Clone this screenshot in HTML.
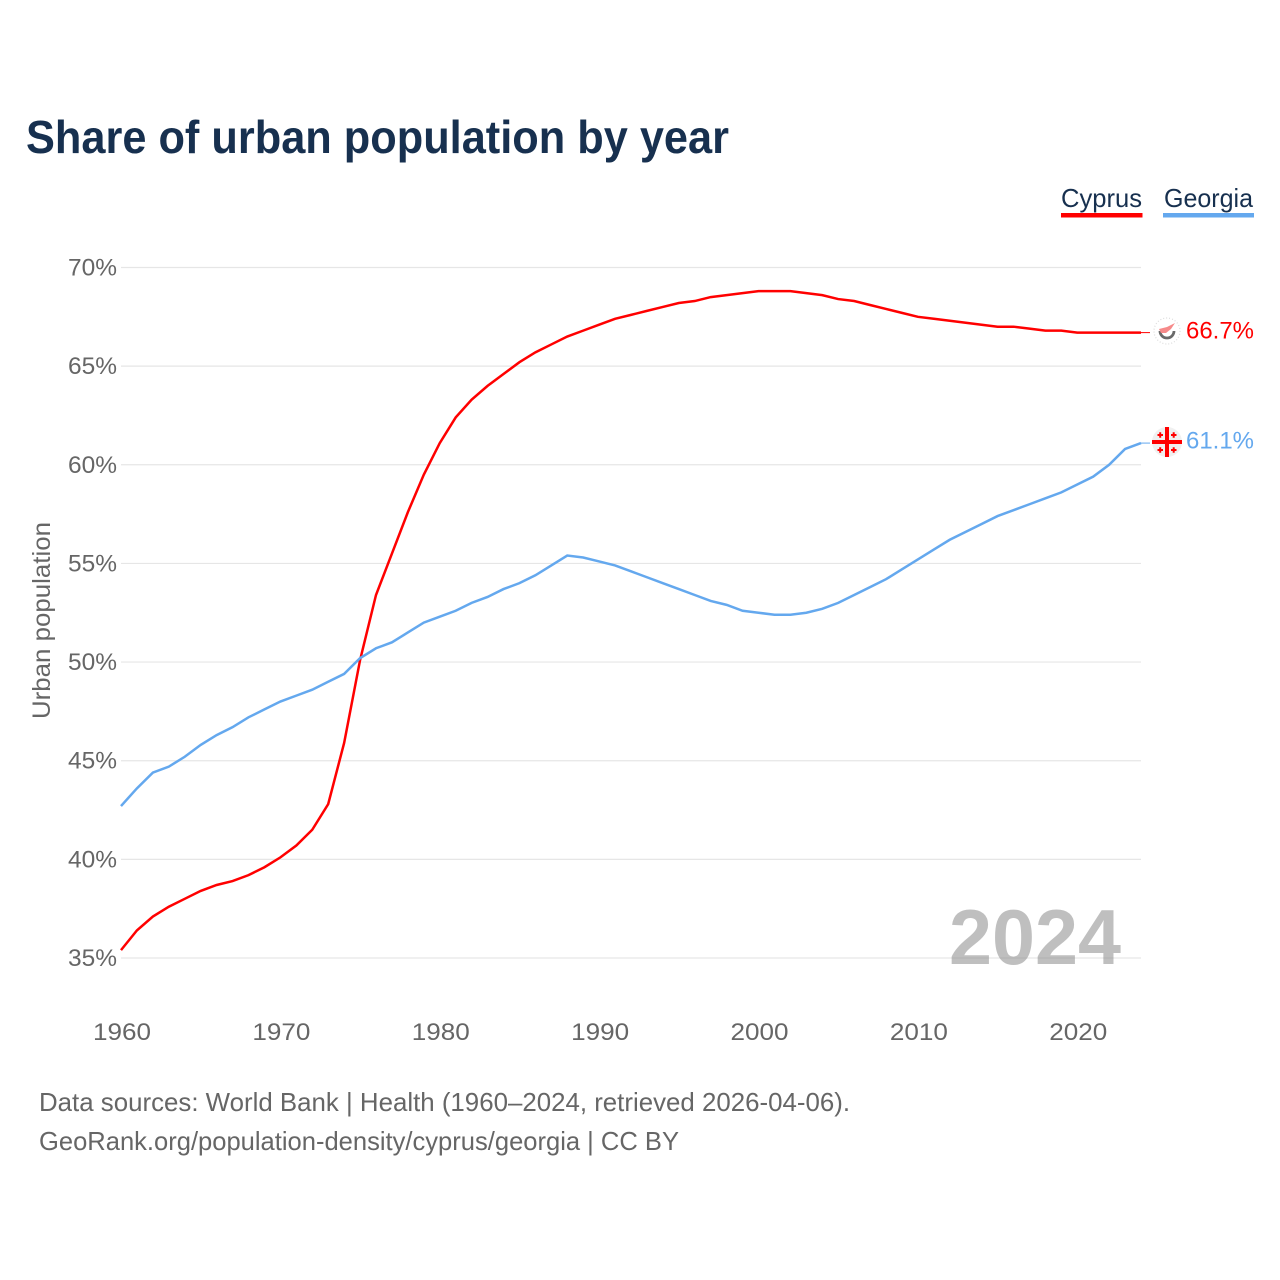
<!DOCTYPE html>
<html lang="en">
<head>
<meta charset="utf-8">
<title>Share of urban population by year</title>
<style>
html,body{margin:0;padding:0;background:#fff;}
svg{display:block;}
text{font-family:"Liberation Sans",sans-serif;}
</style>
</head>
<body>
<svg id="chart" xmlns="http://www.w3.org/2000/svg" width="1280" height="1280" viewBox="0 0 1280 1280">
  <rect width="1280" height="1280" fill="#ffffff"/>
  <text x="26" y="153" font-size="46" font-weight="700" fill="#17304f" textLength="703" lengthAdjust="spacingAndGlyphs">Share of urban population by year</text>

  <g>
    <g>
      <text x="1061" y="207" font-size="26" fill="#17304f" textLength="81" lengthAdjust="spacingAndGlyphs">Cyprus</text>
      <rect x="1061" y="213" width="81.5" height="4.500" fill="#ff0000"/>
    </g>
    <g>
      <text x="1164" y="207" font-size="26" fill="#17304f" textLength="89" lengthAdjust="spacingAndGlyphs">Georgia</text>
      <rect x="1163" y="213" width="91" height="4.500" fill="#64a8ee"/>
    </g>
  </g>

  <g id="grid"></g>
  <g id="yticks"></g>
  <g id="xticks"></g>
  <text transform="translate(50,719) rotate(-90)" font-size="25" fill="#666666" textLength="197" lengthAdjust="spacingAndGlyphs">Urban population</text>

  <text x="949" y="964" font-size="78" font-weight="700" fill="#808080" fill-opacity="0.5" textLength="172" lengthAdjust="spacingAndGlyphs">2024</text>

  <g id="series"></g>

  <g>
    <circle cx="1167" cy="331" r="13" fill="#ffffff" stroke="#dcdcdc" stroke-width="1.2" stroke-dasharray="1 2"/>
    <path d="M1160 331 A7 7 0 0 0 1174 331" fill="none" stroke="#6a6a6a" stroke-width="2.8"/>
    <path d="M1159 329 L1167 327 L1175 323 L1171 329 L1166 333 L1161 333 Z" fill="#f68a8a"/>
  </g>
  <g>
    <circle cx="1167" cy="442" r="15" fill="#f0f0f0"/>
    <rect x="1165" y="427" width="4" height="30" fill="#ff0000"/>
    <rect x="1152" y="440" width="30" height="4" fill="#ff0000"/>
    <path d="M1157.500 435h5.500M1160.200 432.200v5.600M1171 435h5.500M1173.700 432.200v5.600M1157.500 450h5.500M1160.200 447.200v5.600M1171 450h5.500M1173.700 447.200v5.600" stroke="#ff0000" stroke-width="2" fill="none"/>
  </g>
  <text id="label-cyprus" x="1186" y="338.500" font-size="24" fill="#ff0000" textLength="68" lengthAdjust="spacingAndGlyphs"></text>
  <text id="label-georgia" x="1186" y="448.500" font-size="24" fill="#64a8ee" textLength="68" lengthAdjust="spacingAndGlyphs"></text>

  <text x="39" y="1111" font-size="26" fill="#666666" textLength="811" lengthAdjust="spacingAndGlyphs">Data sources: World Bank | Health (1960–2024, retrieved 2026-04-06).</text>
  <text x="39" y="1150" font-size="26" fill="#666666" textLength="640" lengthAdjust="spacingAndGlyphs">GeoRank.org/population-density/cyprus/georgia | CC BY</text>
</svg>
<script>
const startYear = 1960;
const cyprusValues = [35.4,36.4,37.1,37.6,38.0,38.4,38.7,38.9,39.2,39.6,40.1,40.7,41.5,42.8,45.9,50.1,53.4,55.5,57.6,59.5,61.1,62.4,63.3,64.0,64.6,65.2,65.7,66.1,66.5,66.8,67.1,67.4,67.6,67.8,68.0,68.2,68.3,68.5,68.6,68.7,68.8,68.8,68.8,68.7,68.6,68.4,68.3,68.1,67.9,67.7,67.5,67.4,67.3,67.2,67.1,67.0,67.0,66.9,66.8,66.8,66.7,66.7,66.7,66.7,66.7];
const georgiaValues = [42.7,43.6,44.4,44.7,45.2,45.8,46.3,46.7,47.2,47.6,48.0,48.3,48.6,49.0,49.4,50.2,50.7,51.0,51.5,52.0,52.3,52.6,53.0,53.3,53.7,54.0,54.4,54.9,55.4,55.3,55.1,54.9,54.6,54.3,54.0,53.7,53.4,53.1,52.9,52.6,52.5,52.4,52.4,52.5,52.7,53.0,53.4,53.8,54.2,54.7,55.2,55.7,56.2,56.6,57.0,57.4,57.7,58.0,58.3,58.6,59.0,59.4,60.0,60.8,61.1];
const yTickValues = [35,40,45,50,55,60,65,70];
const xTickYears = [1960,1970,1980,1990,2000,2010,2020];

const NS = 'http://www.w3.org/2000/svg';
const x0 = 121, x1 = 1141, yearSpan = 64;
const yBottom = 958, yTop = 267.5, vBottom = 35, vTop = 70;
function xScale(year){ return x0 + (year - startYear) * (x1 - x0) / yearSpan; }
function yScale(v){ return yBottom - (v - vBottom) * (yBottom - yTop) / (vTop - vBottom); }

const gridGroup = document.getElementById('grid');
const yTickGroup = document.getElementById('yticks');
const xTickGroup = document.getElementById('xticks');
const seriesGroup = document.getElementById('series');

yTickValues.forEach(function(v){
  const line = document.createElementNS(NS, 'line');
  
  
  line.setAttribute('x1', x0);
  line.setAttribute('x2', x1);
  line.setAttribute('y1', yScale(v));
  line.setAttribute('y2', yScale(v));
  line.setAttribute('stroke', '#e6e6e6');
  line.setAttribute('stroke-width', '1.2');
  gridGroup.appendChild(line);

  const label = document.createElementNS(NS, 'text');
  
  
  label.setAttribute('x', 68);
  label.setAttribute('y', yScale(v) + 8);
  label.setAttribute('font-size', '24');
  label.setAttribute('fill', '#666666');
  label.setAttribute('textLength', '49');
  label.setAttribute('lengthAdjust', 'spacingAndGlyphs');
  label.textContent = v + '%';
  yTickGroup.appendChild(label);
});

xTickYears.forEach(function(year){
  const label = document.createElementNS(NS, 'text');
  
  
  label.setAttribute('x', xScale(year) - 28);
  label.setAttribute('y', 1040);
  label.setAttribute('font-size', '24');
  label.setAttribute('fill', '#666666');
  label.setAttribute('textLength', '58');
  label.setAttribute('lengthAdjust', 'spacingAndGlyphs');
  label.textContent = year;
  xTickGroup.appendChild(label);
});

function linePath(values){
  return values.map(function(v, i){
    return (i ? 'L' : 'M') + xScale(startYear + i).toFixed(2) + ' ' + yScale(v).toFixed(2);
  }).join(' ');
}

const cyprusLine = document.createElementNS(NS, 'path');


cyprusLine.setAttribute('d', linePath(cyprusValues));
cyprusLine.setAttribute('fill', 'none');
cyprusLine.setAttribute('stroke', '#ff0000');
cyprusLine.setAttribute('stroke-width', '2.5');
seriesGroup.appendChild(cyprusLine);

const georgiaLine = document.createElementNS(NS, 'path');


georgiaLine.setAttribute('d', linePath(georgiaValues));
georgiaLine.setAttribute('fill', 'none');
georgiaLine.setAttribute('stroke', '#64a8ee');
georgiaLine.setAttribute('stroke-width', '2.5');
seriesGroup.appendChild(georgiaLine);

const cyprusLast = cyprusValues[cyprusValues.length - 1];
const georgiaLast = georgiaValues[georgiaValues.length - 1];

const cyprusConnector = document.createElementNS(NS, 'line');


cyprusConnector.setAttribute('x1', x1);
cyprusConnector.setAttribute('x2', x1 + 9);
cyprusConnector.setAttribute('y1', yScale(cyprusLast));
cyprusConnector.setAttribute('y2', yScale(cyprusLast));
cyprusConnector.setAttribute('stroke', '#ff0000');
cyprusConnector.setAttribute('stroke-width', '1');
seriesGroup.appendChild(cyprusConnector);

const georgiaConnector = document.createElementNS(NS, 'line');


georgiaConnector.setAttribute('x1', x1);
georgiaConnector.setAttribute('x2', x1 + 9);
georgiaConnector.setAttribute('y1', yScale(georgiaLast));
georgiaConnector.setAttribute('y2', yScale(georgiaLast));
georgiaConnector.setAttribute('stroke', '#64a8ee');
georgiaConnector.setAttribute('stroke-width', '1');
seriesGroup.appendChild(georgiaConnector);

document.getElementById('label-cyprus').textContent = cyprusLast.toFixed(1) + '%';
document.getElementById('label-georgia').textContent = georgiaLast.toFixed(1) + '%';
</script>
</body>
</html>
